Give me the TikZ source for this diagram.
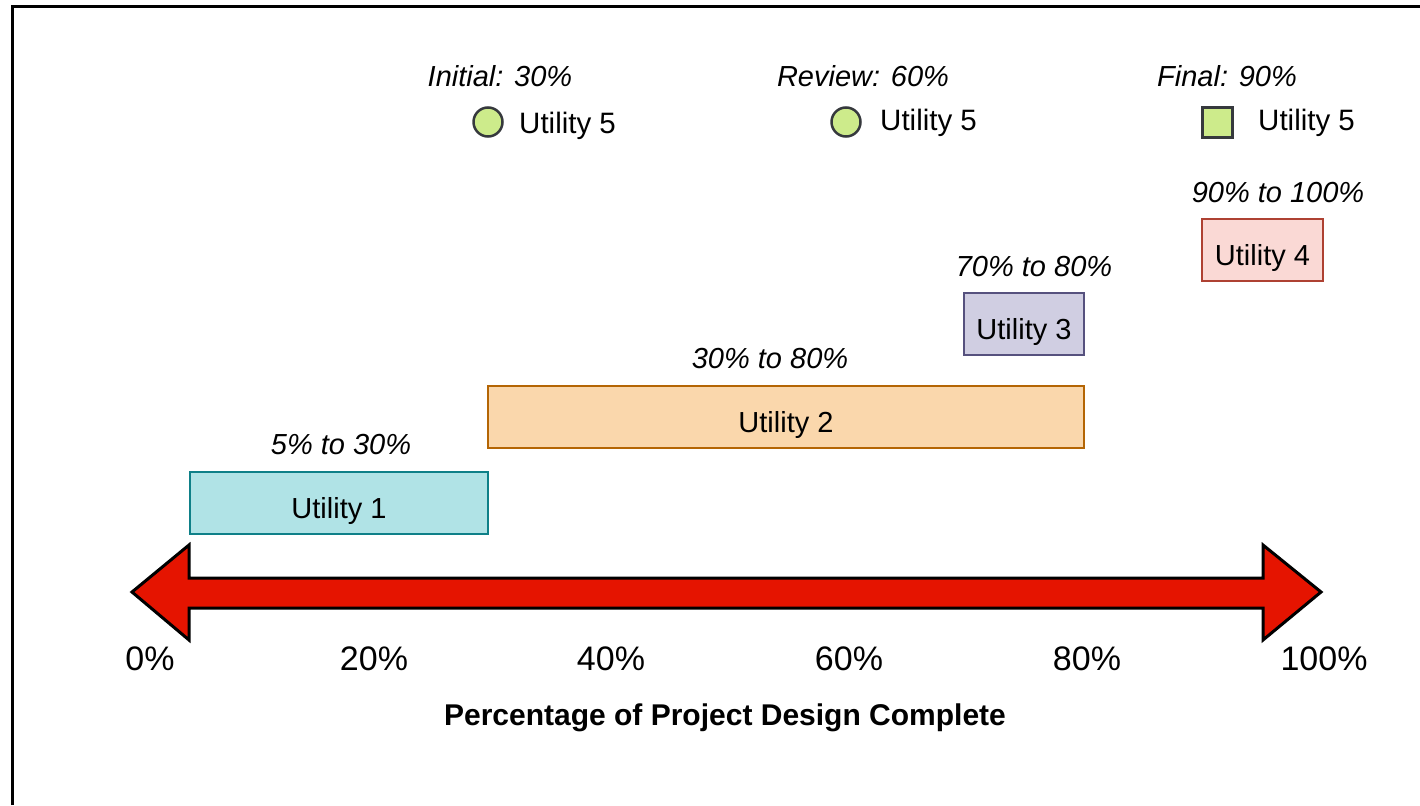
\documentclass[tikz,border=0pt]{standalone}
\usepackage{fontspec}
\setmainfont{Liberation Sans}
\definecolor{u1f}{HTML}{B0E3E6}\definecolor{u1d}{HTML}{0E8088}
\definecolor{u2f}{HTML}{FAD7AC}\definecolor{u2d}{HTML}{B46504}
\definecolor{u3f}{HTML}{D0CEE2}\definecolor{u3d}{HTML}{56517E}
\definecolor{u4f}{HTML}{FAD9D5}\definecolor{u4d}{HTML}{AE4132}
\definecolor{u5f}{HTML}{CDEB8B}\definecolor{u5d}{HTML}{36393D}
\definecolor{arrowred}{HTML}{E51400}
\tikzset{
  ubox/.style={draw, line width=2.5pt, inner sep=0pt, font=\fontsize{29}{34}\selectfont, text=black, text height=30pt, text depth=0pt},
  rangelbl/.style={font=\fontsize{29}{34}\selectfont\itshape, inner sep=0pt},
  axlbl/.style={font=\fontsize{34}{40}\selectfont, inner sep=0pt},
  u5lbl/.style={font=\fontsize{29.5}{34}\selectfont, inner sep=0pt, anchor=west},
  marker/.style={draw=u5d, fill=u5f, line width=2.5pt, inner sep=0pt},
}
\begin{document}
\begin{tikzpicture}[x=1pt,y=-1pt]
\useasboundingbox (0,0) rectangle (1420,805);
% frame
\draw[line width=3pt] (12,805) -- (12,7) -- (1420,7);
% arrow
\draw[line width=3pt, fill=arrowred, line join=miter]
  (132,592) -- (189,545) -- (189,578) -- (1263,578) -- (1263,545) -- (1321,592)
  -- (1263,640) -- (1263,608) -- (189,608) -- (189,640) -- cycle;
% boxes
\node[ubox, fill=u1f, draw=u1d, minimum width=298pt, minimum height=62pt] (u1) at (339,503) {Utility 1};
\node[ubox, fill=u2f, draw=u2d, minimum width=596pt, minimum height=62pt] (u2) at (786,417) {Utility 2};
\node[ubox, fill=u3f, draw=u3d, minimum width=120pt, minimum height=62pt] (u3) at (1024,324) {Utility 3};
\node[ubox, fill=u4f, draw=u4d, minimum width=121pt, minimum height=62pt] (u4) at (1262.5,250) {Utility 4};
% range labels
\node[rangelbl] (r1) at (341,445) {5\% to 30\%};
\node[rangelbl] (r2) at (770,359) {30\% to 80\%};
\node[rangelbl] (r3) at (1034,267) {70\% to 80\%};
\node[rangelbl] (r4) at (1278,193) {90\% to 100\%};
% top row
\node[rangelbl] (t1) at (500,76) {Initial: 30\%};
\node[rangelbl] (t2) at (863,76) {Review: 60\%};
\node[rangelbl] (t3) at (1227,76) {Final: 90\%};
\node[marker, circle, minimum size=29pt] (m1) at (488,122) {};
\node[marker, circle, minimum size=29pt] (m2) at (846,122) {};
\node[marker, rectangle, minimum size=30pt] (m3) at (1217.5,122.5) {};
\node[u5lbl] (l1) at (519,126) {Utility 5};
\node[u5lbl] (l2) at (880,123) {Utility 5};
\node[u5lbl] (l3) at (1258,123) {Utility 5};
% axis labels
\node[axlbl] (a0) at (150,659) {0\%};
\node[axlbl] (a20) at (374,659) {20\%};
\node[axlbl] (a40) at (611,659) {40\%};
\node[axlbl] (a60) at (849,659) {60\%};
\node[axlbl] (a80) at (1087,659) {80\%};
\node[axlbl] (a100) at (1324,659) {100\%};
\node[font=\fontsize{30}{35}\selectfont\bfseries, inner sep=0pt] (cap) at (725,718) {Percentage of Project Design Complete};
\end{tikzpicture}
\end{document}
